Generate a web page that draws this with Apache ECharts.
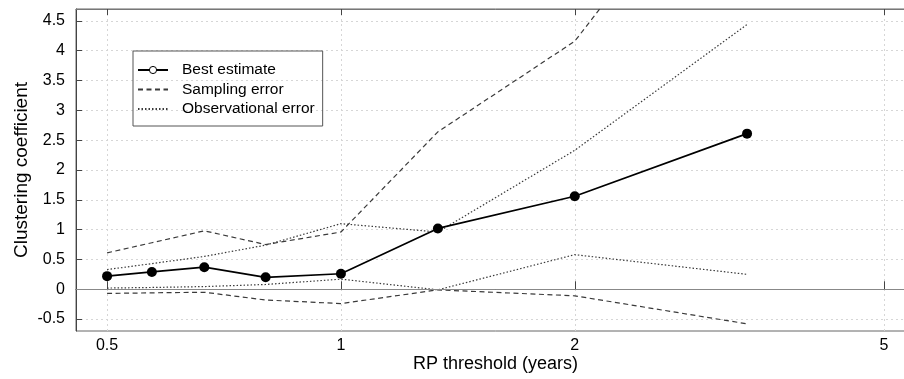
<!DOCTYPE html>
<html>
<head>
<meta charset="utf-8">
<script src="https://cdn.jsdelivr.net/npm/echarts@6/dist/echarts.min.js"></script>
<style>html,body{margin:0;padding:0;background:#fff;overflow:hidden}#c{width:920px;height:379px}</style>
</head>
<body>
<div id="c"></div>
<script>
// RP threshold (years)
const rpThreshold = [0.5, 0.571, 0.667, 0.8, 1, 1.333, 2, 3.333];
const bestEstimate = [0.22, 0.29, 0.37, 0.20, 0.26, 1.02, 1.56, 2.61];
const samplingUpper = [0.61, 0.78, 0.98, 0.75, 0.96, 2.64, 4.16, 7.9];
const samplingLower = [-0.07, -0.06, -0.05, -0.18, -0.24, -0.01, -0.11, -0.58];
const obsUpper = [0.33, 0.43, 0.55, 0.74, 1.10, 0.96, 2.33, 4.44];
const obsLower = [0.02, 0.03, 0.045, 0.08, 0.17, -0.01, 0.58, 0.25];
const xTicks = [0.5, 1, 2, 5];
const yTicks = [-0.5, 0, 0.5, 1, 1.5, 2, 2.5, 3, 3.5, 4, 4.5];

const pairs = ys => rpThreshold.map((x, i) => [x, ys[i]]);
const FONT = '"Liberation Sans", Arial, sans-serif';

const chart = echarts.init(document.getElementById('c'), null, {renderer: 'canvas'});
const gridLine = {show: true, lineStyle: {color: '#d6d6d6', type: [2, 3], width: 1}};
const hiddenDot = {color: 'rgba(0,0,0,0)', borderWidth: 0, opacity: 0};
chart.setOption({
  animation: false,
  backgroundColor: '#fff',
  grid: {left: 76, top: 9, width: 839, height: 322, show: true, borderColor: '#666', borderWidth: 1, containLabel: false},
  legend: {
    orient: 'vertical', left: 133, top: 51,
    borderColor: '#555', borderWidth: 1, borderRadius: 0,
    padding: [11, 8, 9, 4],
    itemWidth: 30, itemHeight: 9, itemGap: 3.5,
    textStyle: {fontFamily: FONT, fontSize: 15.5, color: '#000', padding: [0, 0, 0, 9]},
    data: [
      {name: 'Best estimate', itemStyle: {color: '#fff', borderColor: '#000', borderWidth: 1}},
      {name: 'Sampling error', itemStyle: hiddenDot},
      {name: 'Observational error', itemStyle: hiddenDot}
    ]
  },
  xAxis: [{
    type: 'log', logBase: 10, min: 0.456, max: 5.483,
    name: 'RP threshold (years)', nameLocation: 'middle', nameGap: 24, nameMoveOverlap: false,
    nameTextStyle: {fontFamily: FONT, fontSize: 18, color: '#000'},
    axisLine: {show: true, lineStyle: {color: '#444', width: 1}},
    axisTick: {show: true, inside: true, length: 8, customValues: xTicks, lineStyle: {color: '#444'}},
    axisLabel: {customValues: xTicks, margin: 7, fontFamily: FONT, fontSize: 16, color: '#000', formatter: v => String(v)},
    splitLine: gridLine, minorTick: {show: false}
  }, {
    type: 'log', logBase: 10, min: 0.456, max: 5.483, position: 'top',
    axisLine: {show: true, lineStyle: {color: '#777', width: 1}},
    axisTick: {show: true, inside: true, length: 6, customValues: xTicks, lineStyle: {color: '#444'}},
    axisLabel: {show: false}, splitLine: {show: false}
  }],
  yAxis: {
    type: 'value', min: -0.7, max: 4.7,
    name: 'Clustering coefficient', nameLocation: 'middle', nameGap: 45, nameMoveOverlap: false,
    nameTextStyle: {fontFamily: FONT, fontSize: 19, color: '#000'},
    axisLine: {show: true, lineStyle: {color: '#444', width: 1}},
    axisTick: {show: true, inside: true, length: 6, customValues: yTicks, lineStyle: {color: '#444'}},
    axisLabel: {customValues: yTicks, margin: 11, fontFamily: FONT, fontSize: 16, color: '#000', formatter: v => String(v)},
    splitLine: gridLine
  },
  series: [
    {
      name: 'Best estimate', type: 'line', data: pairs(bestEstimate),
      symbol: 'circle', symbolSize: 10, z: 5,
      itemStyle: {color: '#000'}, lineStyle: {color: '#000', width: 1.7},
      markLine: {silent: true, symbol: 'none', label: {show: false}, lineStyle: {color: '#888', type: 'solid', width: 1}, data: [{yAxis: 0}]}
    },
    {
      name: 'Sampling error', type: 'line', data: pairs(samplingUpper),
      symbol: 'none', itemStyle: {color: '#3a3a3a'}, lineStyle: {color: '#3a3a3a', width: 1.2, type: [5, 3.5]}
    },
    {
      name: 'Sampling error', type: 'line', data: pairs(samplingLower),
      symbol: 'none', itemStyle: {color: '#3a3a3a'}, lineStyle: {color: '#3a3a3a', width: 1.2, type: [5, 3.5]}
    },
    {
      name: 'Observational error', type: 'line', data: pairs(obsUpper),
      symbol: 'none', itemStyle: {color: '#3a3a3a'}, lineStyle: {color: '#3a3a3a', width: 1.2, type: [1.5, 2]}
    },
    {
      name: 'Observational error', type: 'line', data: pairs(obsLower),
      symbol: 'none', itemStyle: {color: '#3a3a3a'}, lineStyle: {color: '#3a3a3a', width: 1.2, type: [1.5, 2]}
    }
  ]
});
</script>
</body>
</html>
